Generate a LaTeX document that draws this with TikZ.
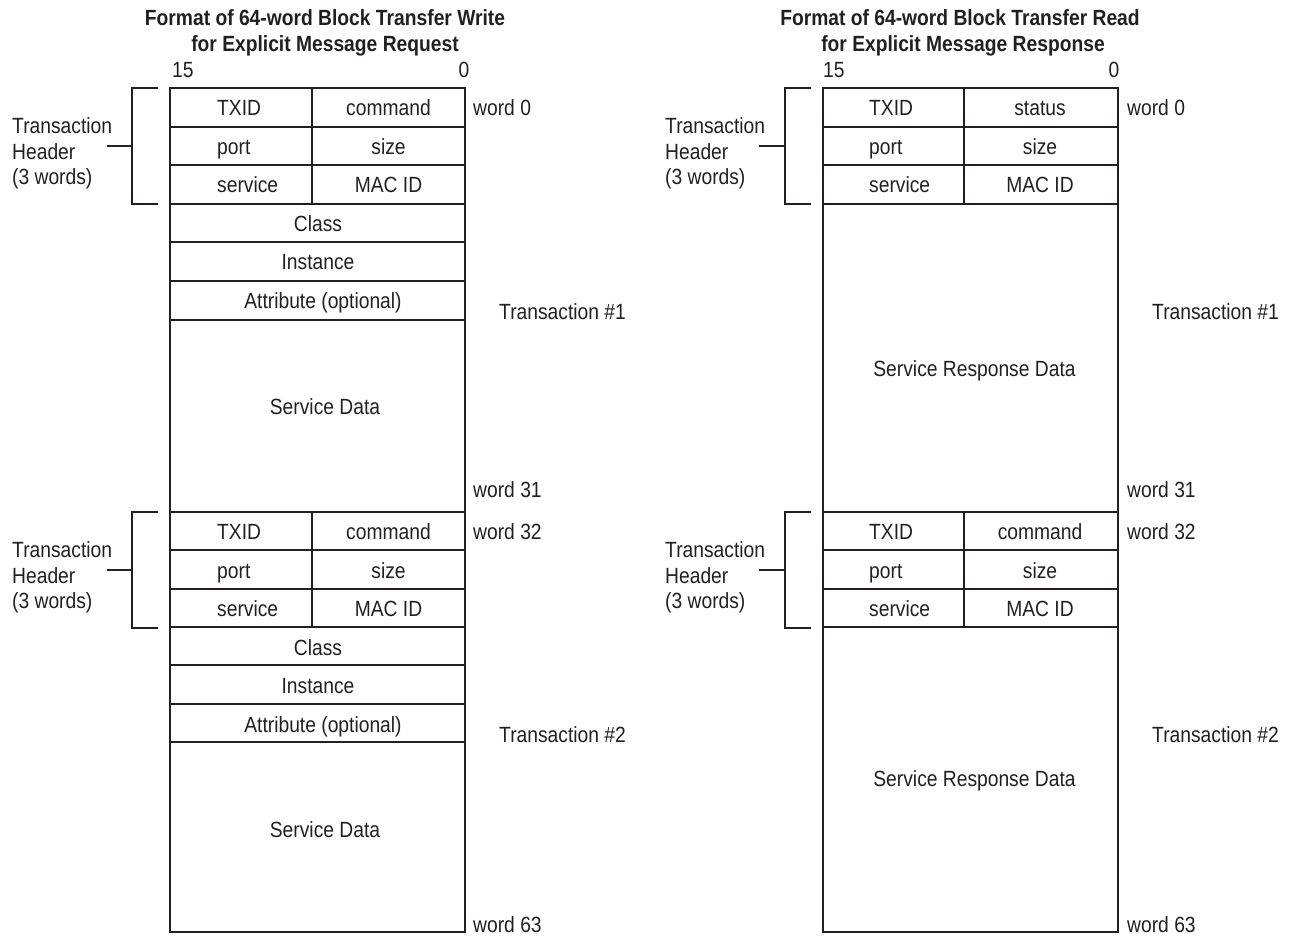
\documentclass[tikz,border=0pt]{standalone}
\usepackage{fontspec}
\setmainfont{Liberation Sans}[FakeStretch=0.875]
\definecolor{ink}{HTML}{231F20}
\begin{document}
\begin{tikzpicture}[x=1pt,y=-1pt,
  txt/.style={inner sep=0pt, anchor=base, text=ink, font=\fontsize{22pt}{26pt}\selectfont},
  txtl/.style={txt, anchor=base west},
  ttl/.style={txt, font=\fontsize{22pt}{26pt}\selectfont\bfseries},
  frame/.style={draw=ink, line width=1.3pt},
  brk/.style={draw=ink, line width=1.1pt}]
\useasboundingbox (0,0) rectangle (1292,937);

% ---------------- titles ----------------
\node[ttl] (tl1) at (325,25) {Format of 64-word Block Transfer Write};
\node[ttl] (tl2) at (325,51) {for Explicit Message Request};
\node[ttl] (tr1) at (960,25) {Format of 64-word Block Transfer Read};
\node[ttl] (tr2) at (963,51) {for Explicit Message Response};
\node[txtl] (l15) at (172,77) {15};
\node[txt] (l0) at (464,77) {0};
\node[txtl] (r15) at (823,77) {15};
\node[txt] (r0) at (1114,77) {0};

% ---------------- left table ----------------
\draw[frame] (170,88) rectangle (465,512);
\foreach \yy in {127,165,204,242,281,320} \draw[frame] (170,\yy) -- (465,\yy);
\draw[frame] (312,88) -- (312,204);
\draw[frame] (170,512) rectangle (465,932);
\foreach \yy in {550,589,627,665,704,742} \draw[frame] (170,\yy) -- (465,\yy);
\draw[frame] (312,512) -- (312,627);

\foreach \dy/\n in {0/a,424/b}{
  \begin{scope}[shift={(0,\dy)}]
    \node[txtl] (ltx\n) at (217,115.5) {TXID};
    \node[txtl] (lpo\n) at (217,154) {port};
    \node[txtl] (lse\n) at (217,192.5) {service};
    \node[txt] (lsz\n) at (388.5,154) {size};
    \node[txt] (lma\n) at (388.5,192.5) {MAC ID};
    \node[txt] (lcl\n) at (318,231) {Class};
    \node[txt] (lin\n) at (318,269.5) {Instance};
    \node[txt] (lat\n) at (323,308.5) {Attribute (optional)};
    % bracket
    \coordinate (lbt\n) at (158,88);
    \coordinate (lbb\n) at (158,204);
    \coordinate (lbm\n) at (132,146);
    \coordinate (lbl\n) at (107,146);
    \draw[brk] (lbt\n) -- (132,88) -- (132,204) -- (lbb\n);
    \draw[brk] (lbl\n) -- (lbm\n);
    \node[txtl] (lh1\n) at (12,133) {Transaction};
    \node[txtl] (lh2\n) at (12,159) {Header};
    \node[txtl] (lh3\n) at (12,184) {(3 words)};
  \end{scope}
}
\node[txt] (lcmda) at (388.5,115.5) {command};
\node[txt] (lcmdb) at (388.5,539.5) {command};
\node[txt] (lsd1) at (325,414) {Service Data};
\node[txt] (lsd2) at (325,837) {Service Data};
\node[txtl] (lw0) at (473,115.5) {word 0};
\node[txtl] (lw31) at (473,497) {word 31};
\node[txtl] (lw32) at (473,539.5) {word 32};
\node[txtl] (lw63) at (473,932) {word 63};
\node[txtl] (ltr1) at (499,319) {Transaction \#1};
\node[txtl] (ltr2) at (499,742) {Transaction \#2};

% ---------------- right table ----------------
\draw[frame] (823,88) rectangle (1118,512);
\foreach \yy in {127,165,204} \draw[frame] (823,\yy) -- (1118,\yy);
\draw[frame] (964,88) -- (964,204);
\draw[frame] (823,512) rectangle (1118,932);
\foreach \yy in {550,589,627} \draw[frame] (823,\yy) -- (1118,\yy);
\draw[frame] (964,512) -- (964,627);

\foreach \dy/\n in {0/a,424/b}{
  \begin{scope}[shift={(0,\dy)}]
    \node[txtl] (rtx\n) at (869,115.5) {TXID};
    \node[txtl] (rpo\n) at (869,154) {port};
    \node[txtl] (rse\n) at (869,192.5) {service};
    \node[txt] (rsz\n) at (1040,154) {size};
    \node[txt] (rma\n) at (1040,192.5) {MAC ID};
    \coordinate (rbt\n) at (811,88);
    \coordinate (rbb\n) at (811,204);
    \coordinate (rbm\n) at (785,146);
    \coordinate (rbl\n) at (759,146);
    \draw[brk] (rbt\n) -- (785,88) -- (785,204) -- (rbb\n);
    \draw[brk] (rbl\n) -- (rbm\n);
    \node[txtl] (rh1\n) at (665,133) {Transaction};
    \node[txtl] (rh2\n) at (665,159) {Header};
    \node[txtl] (rh3\n) at (665,184) {(3 words)};
  \end{scope}
}
\node[txt] (rst) at (1040,115.5) {status};
\node[txt] (rcmd) at (1040,539.5) {command};
\node[txt] (rsd1) at (974.5,376) {Service Response Data};
\node[txt] (rsd2) at (974.5,786) {Service Response Data};
\node[txtl] (rw0) at (1127,115.5) {word 0};
\node[txtl] (rw31) at (1127,497) {word 31};
\node[txtl] (rw32) at (1127,539.5) {word 32};
\node[txtl] (rw63) at (1127,932) {word 63};
\node[txtl] (rtr1) at (1152,319) {Transaction \#1};
\node[txtl] (rtr2) at (1152,742) {Transaction \#2};
\end{tikzpicture}
\end{document}
